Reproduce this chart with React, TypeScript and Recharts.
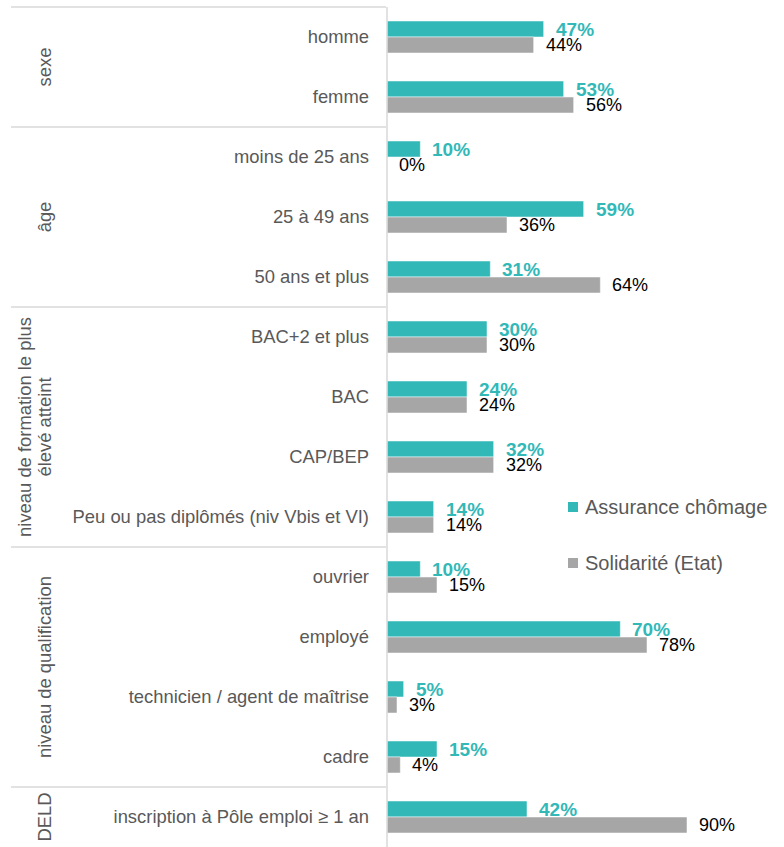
import React from "react";
import { BarChart, Bar, XAxis, YAxis, LabelList } from "recharts";

const categories = [
  "homme",
  "femme",
  "moins de 25 ans",
  "25 à 49 ans",
  "50 ans et plus",
  "BAC+2 et plus",
  "BAC",
  "CAP/BEP",
  "Peu ou pas diplômés (niv Vbis et VI)",
  "ouvrier",
  "employé",
  "technicien / agent de maîtrise",
  "cadre",
  "inscription à Pôle emploi ≥ 1 an",
];

const assurance = [47, 53, 10, 59, 31, 30, 24, 32, 14, 10, 70, 5, 15, 42];
const solidarite = [44, 56, 0, 36, 64, 30, 24, 32, 14, 15, 78, 3, 4, 90];

const groupLabels = [
  ["sexe"],
  ["âge"],
  ["niveau de formation le plus", "élevé atteint"],
  ["niveau de qualification"],
  ["DELD"],
];
const groupSizes = [2, 3, 4, 4, 1];

const seriesNames = ["Assurance chômage", "Solidarité (Etat)"];

const TEAL = "#33B8B8";
const GREY = "#A6A6A6";
const TEXT = "#595959";
const LINE = "#D9D9D9";
const FONT = "'Liberation Sans', Arial, sans-serif";

const WIDTH = 784;
const HEIGHT = 847;
const TOP = 7;
const BAND = (HEIGHT - TOP) / categories.length;

const data = categories.map((name, i) => ({
  name,
  assurance: assurance[i],
  solidarite: solidarite[i],
}));

// first index of each group
const groupStarts = groupSizes.map((_, g) =>
  groupSizes.slice(0, g).reduce((a, b) => a + b, 0)
);

function CategoryTick(props: any) {
  const { y, payload } = props;
  const index = props.index ?? payload.index;
  const g = groupStarts.indexOf(index);
  let extra = null;
  if (g >= 0) {
    const top = y - BAND / 2;
    const cy = top + (groupSizes[g] * BAND) / 2;
    const lines = groupLabels[g];
    const cx = lines.length > 1 ? 35 : 45;
    extra = (
      <g>
        <line x1={11} x2={386} y1={top} y2={top} stroke={LINE} strokeWidth={1.5} />
        <text
          transform={`rotate(-90, ${cx}, ${cy})`}
          x={cx}
          y={cy}
          textAnchor="middle"
          fill={TEXT}
          fontSize={18.4}
          fontFamily={FONT}
        >
          {lines.map((l, k) => (
            <tspan
              key={k}
              x={cx}
              dy={k === 0 ? (lines.length > 1 ? -4 : 6) : 20}
            >
              {l}
            </tspan>
          ))}
        </text>
      </g>
    );
  }
  return (
    <g>
      {extra}
      <text
        x={369}
        y={y}
        dy={6}
        textAnchor="end"
        fill={TEXT}
        fontSize={18.4}
        fontFamily={FONT}
      >
        {payload.value}
      </text>
    </g>
  );
}

function makeLabel(color: string, bold: boolean, size: number) {
  return (props: any) => {
    const { x, y, width, height, value } = props;
    return (
      <text
        x={Number(x) + Math.round(Number(width)) + 12}
        y={Number(y) + Number(height) / 2}
        dy={size * 0.36}
        fill={color}
        fontSize={size}
        fontWeight={bold ? "bold" : "normal"}
        fontFamily={FONT}
      >
        {value}%
      </text>
    );
  };
}

function ChartLegend() {
  const colors = [TEAL, GREY];
  return (
    <div
      style={{
        position: "absolute",
        left: 568,
        top: 479,
        fontFamily: FONT,
      }}
    >
      {seriesNames.map((label, i) => (
        <div
          key={label}
          style={{
            display: "flex",
            alignItems: "center",
            height: 56,
            fontSize: 20,
            color: TEXT,
            whiteSpace: "nowrap",
          }}
        >
          <span
            style={{
              display: "inline-block",
              width: 10,
              height: 10,
              background: colors[i],
              marginRight: 7,
            }}
          />
          {label}
        </div>
      ))}
    </div>
  );
}

export default function App() {
  return (
    <div
      style={{
        position: "absolute",
        left: 0,
        top: 0,
        width: WIDTH,
        height: HEIGHT,
        background: "#fff",
      }}
    >
      <BarChart
        width={WIDTH}
        height={HEIGHT}
        data={data}
        layout="vertical"
        margin={{ top: TOP, right: 97, bottom: 0, left: 0 }}
        barCategoryGap={14}
        barGap={0}
      >
        <XAxis type="number" domain={[0, 90]} hide />
        <YAxis
          type="category"
          dataKey="name"
          width={387}
          axisLine={{ stroke: LINE, strokeWidth: 1.5 }}
          tickLine={false}
          interval={0}
          tick={<CategoryTick />}
        />
        <Bar
          dataKey="assurance"
          name={seriesNames[0]}
          fill={TEAL}
          stroke="#fff"
          strokeWidth={0.5}
          barSize={16}
          minPointSize={0.01}
          isAnimationActive={false}
        >
          <LabelList dataKey="assurance" content={makeLabel(TEAL, true, 19)} />
        </Bar>
        <Bar
          dataKey="solidarite"
          name={seriesNames[1]}
          fill={GREY}
          stroke="#fff"
          strokeWidth={0.5}
          barSize={16}
          minPointSize={0.01}
          isAnimationActive={false}
        >
          <LabelList dataKey="solidarite" content={makeLabel("#000", false, 18)} />
        </Bar>
      </BarChart>
      <ChartLegend />
    </div>
  );
}
